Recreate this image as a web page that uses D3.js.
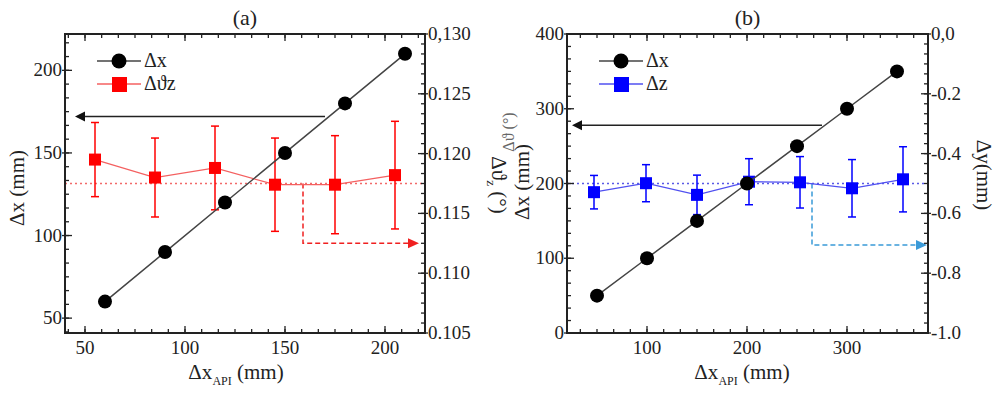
<!DOCTYPE html>
<html>
<head>
<meta charset="utf-8">
<script src="https://cdn.jsdelivr.net/npm/d3@7"></script>
<style>
  body { margin: 0; background: #fff; }
  svg { display: block; }
</style>
</head>
<body>
<svg id="chart" width="1000" height="394"></svg>
<script>
// ---- panel (a) data ----
var xA_dx = [60, 90, 120, 150, 180, 210];
var yA_dx = [60, 90, 120, 150, 180, 210];
var xA_th = [55, 85, 115, 145, 175, 205];
var yA_th = [0.1195, 0.1180, 0.1188, 0.1174, 0.1174, 0.1182];
var eA_th = [0.0031, 0.0033, 0.0035, 0.0039, 0.0041, 0.0045];
var refA = 0.1175;
var xTicksA = [50, 100, 150, 200];
var yLTicksA = [50, 100, 150, 200];
var yRTicksA = [0.105, 0.110, 0.115, 0.120, 0.125, 0.130];
var yRLabelsA = ["0.105", "0.110", "0.115", "0.120", "0.125", "0,130"];

// ---- panel (b) data ----
var xB_dx = [50, 100, 150, 200, 250, 300, 350];
var yB_dx = [50, 100, 150, 200, 250, 300, 350];
var xB_dz = [47, 99, 150, 202, 253, 305, 356];
var yB_dz = [-0.529, -0.499, -0.538, -0.494, -0.496, -0.516, -0.486];
var eB_dz = [0.056, 0.062, 0.066, 0.077, 0.086, 0.096, 0.109];
var refB = -0.5;
var xTicksB = [100, 200, 300];
var yLTicksB = [0, 100, 200, 300, 400];
var yRTicksB = [-1.0, -0.8, -0.6, -0.4, -0.2, 0.0];
var yRLabelsB = ["-1.0", "-0.8", "-0.6", "-0.4", "-0.2", "0,0"];

var FONT = "'Liberation Serif', 'DejaVu Serif', serif";
var TXT = "#222";

var svg = d3.select("#chart");

function label(sel) {
    return sel.attr("font-family", FONT).attr("fill", TXT);
}

function drawPanel(p) {
    var g = svg.append("g");
    var x = d3.scaleLinear().domain(p.xDom).range([p.left, p.right]);
    var yL = d3.scaleLinear().domain(p.yLDom).range([p.bottom, p.top]);
    var yR = d3.scaleLinear().domain(p.yRDom).range([p.bottom, p.top]);

    // reference dotted line
    g.append("line")
        .attr("x1", p.left).attr("x2", p.right)
        .attr("y1", yR(p.ref)).attr("y2", yR(p.ref))
        .attr("stroke", p.refColor).attr("stroke-width", 1.5)
        .attr("stroke-dasharray", "2,3");

    // black arrow pointing to left axis
    g.append("line")
        .attr("x1", x(p.arrL[0])).attr("x2", x(p.arrL[1]) + 8)
        .attr("y1", yL(p.arrL[2])).attr("y2", yL(p.arrL[2]))
        .attr("stroke", "#222").attr("stroke-width", 1.5);
    var ax = x(p.arrL[1]), ay = yL(p.arrL[2]);
    g.append("path")
        .attr("d", "M" + ax + "," + ay + "l10,-5l0,10z")
        .attr("fill", "#111");

    // dashed arrow pointing to right axis
    var dx0 = x(p.arrR[0]), dy0 = yR(p.ref), dy1 = yR(p.arrR[1]), dx1 = x(p.arrR[2]);
    g.append("path")
        .attr("d", "M" + dx0 + "," + dy0 + "V" + dy1 + "H" + (dx1 - 8))
        .attr("fill", "none").attr("stroke", p.arrColor).attr("stroke-width", 1.5)
        .attr("stroke-dasharray", "5,3");
    g.append("path")
        .attr("d", "M" + dx1 + "," + dy1 + "l-11,-5l0,10z")
        .attr("fill", p.arrColor);

    // secondary series: line, error bars, squares
    var sec = p.xS.map(function(d, i) { return {x: d, y: p.yS[i], e: p.eS[i]}; });
    g.append("path")
        .datum(sec)
        .attr("d", d3.line().x(function(d) { return x(d.x); }).y(function(d) { return yR(d.y); }))
        .attr("fill", "none").attr("stroke", p.lineColor).attr("stroke-width", 1.3);
    var eb = g.selectAll(".eb").data(sec).enter().append("g");
    eb.append("line")
        .attr("x1", function(d) { return x(d.x); }).attr("x2", function(d) { return x(d.x); })
        .attr("y1", function(d) { return yR(d.y + d.e); }).attr("y2", function(d) { return yR(d.y - d.e); })
        .attr("stroke", p.sColor).attr("stroke-width", 1.5);
    [1, -1].forEach(function(s) {
        eb.append("line")
            .attr("x1", function(d) { return x(d.x) - 4; }).attr("x2", function(d) { return x(d.x) + 4; })
            .attr("y1", function(d) { return yR(d.y + s * d.e); }).attr("y2", function(d) { return yR(d.y + s * d.e); })
            .attr("stroke", p.sColor).attr("stroke-width", 1.5);
    });
    g.selectAll(".sq").data(sec).enter().append("rect")
        .attr("x", function(d) { return x(d.x) - 6; })
        .attr("y", function(d) { return yR(d.y) - 6; })
        .attr("width", 12).attr("height", 12)
        .attr("fill", p.sColor);

    // primary series: line + circles
    var pri = p.xP.map(function(d, i) { return {x: d, y: p.yP[i]}; });
    g.append("path")
        .datum(pri)
        .attr("d", d3.line().x(function(d) { return x(d.x); }).y(function(d) { return yL(d.y); }))
        .attr("fill", "none").attr("stroke", "#444").attr("stroke-width", 1.5);
    g.selectAll(".ci").data(pri).enter().append("circle")
        .attr("cx", function(d) { return x(d.x); })
        .attr("cy", function(d) { return yL(d.y); })
        .attr("r", 7)
        .attr("fill", "#000");

    // frame
    g.append("rect")
        .attr("x", p.left).attr("y", p.top)
        .attr("width", p.right - p.left).attr("height", p.bottom - p.top)
        .attr("fill", "none").attr("stroke", "#222").attr("stroke-width", 2);

    // ticks (major + 5 minor between)
    function minors(scale, step) {
        var d = scale.domain(), lo = Math.min(d[0], d[1]), hi = Math.max(d[0], d[1]);
        var st = step / 6, out = [];
        for (var v = Math.ceil(lo / st - 1e-6) * st; v <= hi + 1e-9; v += st) out.push(v);
        return out;
    }
    var tk = g.append("g").attr("stroke", "#222").attr("stroke-width", 1.3);
    minors(x, p.xStep).forEach(function(v) {
        var px = x(v);
        tk.append("line").attr("x1", px).attr("x2", px).attr("y1", p.bottom).attr("y2", p.bottom - 4);
        tk.append("line").attr("x1", px).attr("x2", px).attr("y1", p.top).attr("y2", p.top + 4);
    });
    p.xTicks.forEach(function(v) {
        var px = x(v);
        tk.append("line").attr("x1", px).attr("x2", px).attr("y1", p.bottom).attr("y2", p.bottom - 7);
        tk.append("line").attr("x1", px).attr("x2", px).attr("y1", p.top).attr("y2", p.top + 7);
    });
    minors(yL, p.yLStep).forEach(function(v) {
        var py = yL(v);
        tk.append("line").attr("x1", p.left).attr("x2", p.left + 4).attr("y1", py).attr("y2", py);
    });
    p.yLTicks.forEach(function(v) {
        var py = yL(v);
        tk.append("line").attr("x1", p.left - 3).attr("x2", p.left + 7).attr("y1", py).attr("y2", py);
    });
    minors(yR, p.yRStep).forEach(function(v) {
        var py = yR(v);
        tk.append("line").attr("x1", p.right).attr("x2", p.right - 4).attr("y1", py).attr("y2", py);
    });
    p.yRTicks.forEach(function(v) {
        var py = yR(v);
        tk.append("line").attr("x1", p.right + 3).attr("x2", p.right - 7).attr("y1", py).attr("y2", py);
    });

    // tick labels
    label(g.selectAll(".xl").data(p.xTicks).enter().append("text"))
        .attr("x", function(d) { return x(d); }).attr("y", p.bottom + 21)
        .attr("text-anchor", "middle").attr("font-size", "19px")
        .text(function(d) { return d; });
    label(g.selectAll(".yll").data(p.yLTicks).enter().append("text"))
        .attr("x", p.left - 3).attr("y", function(d) { return yL(d) + 6; })
        .attr("text-anchor", "end").attr("font-size", "19px")
        .text(function(d) { return d; });
    label(g.selectAll(".yrl").data(p.yRTicks).enter().append("text"))
        .attr("x", p.right + 3).attr("y", function(d) { return yR(d) + 6; })
        .attr("text-anchor", "start").attr("font-size", "19px")
        .text(function(d, i) { return p.yRLabels[i]; });

    // titles
    label(g.append("text"))
        .attr("x", (p.left + p.right) / 2).attr("y", 25)
        .attr("text-anchor", "middle").attr("font-size", "22px")
        .text(p.title);
    var xt = label(g.append("text"))
        .attr("x", p.xTitleX).attr("y", 379)
        .attr("text-anchor", "middle").attr("font-size", "21px");
    xt.append("tspan").text("Δx");
    xt.append("tspan").attr("font-size", "12px").attr("dy", 6).text("API");
    xt.append("tspan").attr("dy", -6).text(" (mm)");

    if (p.hiddenLabel) {
        label(g.append("text"))
            .attr("transform", "translate(" + (p.left - 53) + ",132) rotate(-90)")
            .attr("text-anchor", "middle").attr("font-size", "16px")
            .attr("fill", "#666")
            .text(p.hiddenLabel);
    }
    label(g.append("text"))
        .attr("transform", "translate(" + p.yLTitleX + "," + p.yLTitleY + ") rotate(-90)")
        .attr("text-anchor", "middle").attr("font-size", "21px")
        .text("Δx (mm)");
    var yt = label(g.append("text"))
        .attr("transform", "translate(" + p.yRTitleX + "," + p.yRTitleY + ") rotate(90)")
        .attr("text-anchor", "middle").attr("font-size", "21px");
    yt.append("tspan").text(p.yRTitle[0]);
    if (p.yRTitle[1]) {
        yt.append("tspan").attr("font-size", "13px").attr("dy", 5).text(p.yRTitle[1]);
        yt.append("tspan").attr("dy", -5).text(p.yRTitle[2]);
    }

    // legend
    var lg = g.append("g");
    lg.append("line").attr("x1", p.left + 32).attr("x2", p.left + 76)
        .attr("y1", 61).attr("y2", 61).attr("stroke", "#444").attr("stroke-width", 1.5);
    lg.append("circle").attr("cx", p.left + 54).attr("cy", 61).attr("r", 7.5).attr("fill", "#000");
    label(lg.append("text")).attr("x", p.left + 79).attr("y", 67).attr("font-size", "20px").text("Δx");
    lg.append("line").attr("x1", p.left + 32).attr("x2", p.left + 76)
        .attr("y1", 84).attr("y2", 84).attr("stroke", p.lineColor).attr("stroke-width", 1.5);
    lg.append("rect").attr("x", p.left + 47).attr("y", 77).attr("width", 15).attr("height", 15)
        .attr("fill", p.sColor);
    label(lg.append("text")).attr("x", p.left + 79).attr("y", 90).attr("font-size", "20px").text(p.legend2);
}

drawPanel({
    left: 65, right: 425, top: 34, bottom: 333,
    xDom: [40, 220], yLDom: [41, 222], yRDom: [0.105, 0.130],
    xTicks: xTicksA, yLTicks: yLTicksA, yRTicks: yRTicksA, yRLabels: yRLabelsA,
    xStep: 50, yLStep: 50, yRStep: 0.005,
    xP: xA_dx, yP: yA_dx, xS: xA_th, yS: yA_th, eS: eA_th,
    ref: refA, refColor: "#f26a6a",
    arrL: [170, 45, 172], arrR: [159, 0.1125, 217], arrColor: "#f02020",
    sColor: "#ff0000", lineColor: "#f46060",
    title: "(a)", legend2: "Δϑz",
    xTitleX: 236, yLTitleX: 24, yLTitleY: 188,
    yRTitleX: 492, yRTitleY: 185, yRTitle: ["Δϑ", "z", " (°)"]
});

drawPanel({
    left: 567, right: 928, top: 34, bottom: 333,
    xDom: [20, 381], yLDom: [0, 400], yRDom: [-1.0, 0.0],
    xTicks: xTicksB, yLTicks: yLTicksB, yRTicks: yRTicksB, yRLabels: yRLabelsB,
    xStep: 100, yLStep: 100, yRStep: 0.2,
    xP: xB_dx, yP: yB_dx, xS: xB_dz, yS: yB_dz, eS: eB_dz,
    ref: refB, refColor: "#5a5ae6",
    arrL: [275, 25, 278], arrR: [265, -0.706, 380], arrColor: "#3a9ad8",
    sColor: "#0000ff", lineColor: "#5050f0",
    title: "(b)", legend2: "Δz",
    xTitleX: 742, yLTitleX: 529, yLTitleY: 182, hiddenLabel: "Δϑ (°)",
    yRTitleX: 977, yRTitleY: 175, yRTitle: ["Δy(mm)"]
});
</script>
</body>
</html>
